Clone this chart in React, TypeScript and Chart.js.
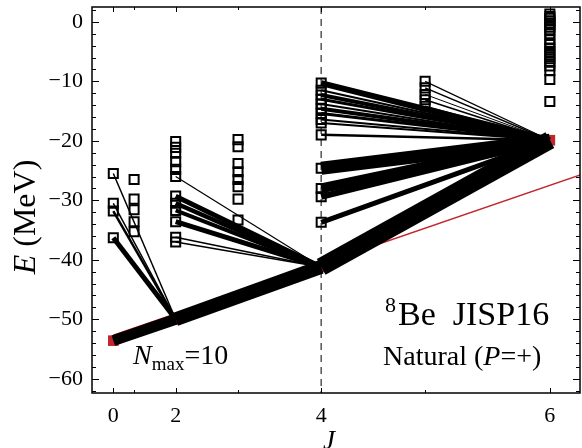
import React, { useEffect, useRef } from 'react';
import { Chart, registerables } from 'chart.js';

Chart.register(...registerables);

const SERIF = '"Liberation Serif", "Times New Roman", serif';
const RED = '#c0262c';

// Yrast (lowest) states
const yrastJ = [0, 2, 4, 6];
const yrastE = [-53.6, -50.0, -41.2, -19.9];
// B(E2)-like strengths along the yrast band (0->2, 2->4, 4->6)
const yrastBE2 = [44, 56, 72];

// Excited states (energies in MeV) for each J
const statesJ0 = [-25.5, -30.5, -31.8, -36.3];
const statesJ1 = [-26.5, -29.8, -31.6, -33.6, -35.3];
const statesJ2 = [-20.1, -21.1, -22.1, -23.5, -24.8, -26.0, -29.3, -30.5, -31.7, -33.6, -36.2, -37.0];
const statesJ3 = [-19.8, -21.0, -23.8, -25.2, -26.5, -27.7, -29.8, -33.3];
const statesJ4 = [-10.3, -11.5, -12.3, -13.0, -13.8, -14.6, -15.4, -16.4, -17.0, -19.0, -24.6, -28.0, -29.4, -33.7];
const statesJ5 = [-10.0, -11.1, -12.2, -13.1, -14.2];
const statesJ6 = [1.3, 0.9, 0.6, 0.2, -0.2, -0.5, -0.9, -1.3, -2.0, -3.0, -3.8, -4.4, -5.0, -5.6, -6.2, -6.8, -7.4, -8.2, -9.7, -13.4];

// Transition strengths from each excited state to the yrast state (same units as yrastBE2)
const be2J0 = [6, 6, 10, 20];                            // to yrast J=2
const be2J2 = [0, 0, 0, 0, 0, 5, 20, 18, 16, 20, 6, 6];  // to yrast J=4
const be2J4 = [24, 8, 16, 12, 8, 16, 12, 8, 8, 10, 52, 40, 24, 20]; // to yrast J=6
const be2J5 = [5, 6, 4, 7, 6];                           // to yrast J=6

// Rotational band fit line (red)
const bandFitJ = [0, 6.3];
const bandFitE = [-52.7, -25.1];

// Axis ticks
const xTickJ = [0, 2, 4, 6];
const yTickE = [-60, -50, -40, -30, -20, -10, 0];

const X = (j: number) => j * (j + 1);
const WIDTH_PER_UNIT = 0.25;

function buildDatasets() {
  const ds: any[] = [];
  const yr = (j: number) => yrastE[yrastJ.indexOf(j)];
  const addTransitions = (fromJ: number, energies: number[], be2: number[], toJ: number) => {
    energies.forEach((e, i) => {
      if (!be2[i]) return;
      ds.push({
        data: [{ x: X(fromJ), y: e }, { x: X(toJ), y: yr(toJ) }],
        showLine: true,
        borderColor: '#000',
        borderWidth: be2[i] * WIDTH_PER_UNIT,
        pointRadius: 0,
        order: 0,
      });
    });
  };
  // yrast band
  for (let i = 0; i < yrastJ.length - 1; i++) {
    ds.push({
      data: [{ x: X(yrastJ[i]), y: yrastE[i] }, { x: X(yrastJ[i + 1]), y: yrastE[i + 1] }],
      showLine: true,
      borderColor: '#000',
      borderWidth: yrastBE2[i] * WIDTH_PER_UNIT,
      pointRadius: 0,
      order: 0,
    });
  }
  addTransitions(0, statesJ0, be2J0, 2);
  addTransitions(2, statesJ2, be2J2, 4);
  addTransitions(4, statesJ4, be2J4, 6);
  addTransitions(5, statesJ5, be2J5, 6);

  const open: { x: number; y: number }[] = [];
  const groups: [number, number[]][] = [
    [0, statesJ0], [1, statesJ1], [2, statesJ2], [3, statesJ3], [4, statesJ4], [5, statesJ5], [6, statesJ6],
  ];
  groups.forEach(([j, es]) => es.forEach((e) => open.push({ x: X(j), y: e })));
  ds.push({
    data: open,
    pointStyle: 'rect',
    pointRadius: 6.4,
    borderWidth: 2,
    borderColor: '#000',
    backgroundColor: 'rgba(0,0,0,0)',
    order: 1,
  });
  ds.push({
    data: yrastJ.map((j, i) => ({ x: X(j), y: yrastE[i] })),
    pointStyle: 'rect',
    pointRadius: 7.5,
    borderWidth: 0,
    backgroundColor: RED,
    borderColor: RED,
    order: 2,
  });
  ds.push({
    data: bandFitJ.map((j, i) => ({ x: X(j), y: bandFitE[i] })),
    showLine: true,
    borderColor: RED,
    borderWidth: 1.5,
    pointRadius: 0,
    clip: 0,
    order: 3,
  });
  return ds;
}

const framePlugin = {
  id: 'frame',
  beforeDatasetsDraw(chart: any) {
    const { ctx, chartArea, scales } = chart;
    const px = scales.x.getPixelForValue(X(4));
    ctx.save();
    ctx.strokeStyle = '#555';
    ctx.lineWidth = 1.5;
    ctx.setLineDash([7, 5]);
    ctx.beginPath();
    ctx.moveTo(px, chartArea.top);
    ctx.lineTo(px, chartArea.bottom);
    ctx.stroke();
    ctx.restore();
  },
  afterDraw(chart: any) {
    const { ctx, chartArea, scales } = chart;
    const { left, right, top, bottom } = chartArea;
    const ys = scales.y;
    const xs = scales.x;
    ctx.save();
    ctx.strokeStyle = '#000';
    ctx.lineWidth = 1.5;
    ctx.strokeRect(left, top, right - left, bottom - top);
    ctx.lineWidth = 1;
    ctx.beginPath();
    for (let v = -62; v <= 2; v += 2) {
      const py = Math.round(ys.getPixelForValue(v)) + 0.5;
      if (py < top || py > bottom) continue;
      const len = v % 10 === 0 ? 7 : 4;
      ctx.moveTo(left, py); ctx.lineTo(left + len, py);
      ctx.moveTo(right, py); ctx.lineTo(right - len, py);
    }
    for (let j = 0; j <= 6; j++) {
      const px = Math.round(xs.getPixelForValue(X(j))) + 0.5;
      const len = j % 2 === 0 ? 5 : 3;
      ctx.moveTo(px, bottom); ctx.lineTo(px, bottom - len);
      ctx.moveTo(px, top); ctx.lineTo(px, top + len);
    }
    ctx.stroke();

    // texts
    ctx.fillStyle = '#000';
    ctx.textBaseline = 'alphabetic';
    ctx.textAlign = 'left';
    ctx.font = `22px ${SERIF}`;
    ctx.fillText('8', 385, 312);
    ctx.font = `34px ${SERIF}`;
    ctx.fillText('Be  JISP16', 398, 325);

    let x = 383;
    const parts: [string, string][] = [
      ['Natural (', `28px ${SERIF}`],
      ['P', `italic 28px ${SERIF}`],
      ['=+)', `28px ${SERIF}`],
    ];
    parts.forEach(([t, f]) => {
      ctx.font = f;
      ctx.fillText(t, x, 365);
      x += ctx.measureText(t).width;
    });

    x = 133;
    ctx.font = `italic 28px ${SERIF}`;
    ctx.fillText('N', x, 364);
    x += ctx.measureText('N').width;
    ctx.font = `19px ${SERIF}`;
    ctx.fillText('max', x, 370);
    x += ctx.measureText('max').width;
    ctx.font = `28px ${SERIF}`;
    ctx.fillText('=10', x, 364);

    // axis titles
    ctx.font = `italic 27px ${SERIF}`;
    ctx.textAlign = 'center';
    ctx.fillText('J', 329, 449);

    ctx.translate(35, 217);
    ctx.rotate(-Math.PI / 2);
    ctx.textAlign = 'left';
    ctx.font = `italic 32px ${SERIF}`;
    const w1 = ctx.measureText('E').width;
    ctx.font = `32px ${SERIF}`;
    const w2 = ctx.measureText(' (MeV)').width;
    const start = -(w1 + w2) / 2;
    ctx.font = `italic 32px ${SERIF}`;
    ctx.fillText('E', start, 0);
    ctx.font = `32px ${SERIF}`;
    ctx.fillText(' (MeV)', start + w1, 0);
    ctx.restore();
  },
};

const zeroPad = (s: any) => {
  s.paddingTop = 0;
  s.paddingBottom = 0;
  s.paddingLeft = 0;
  s.paddingRight = 0;
};

export default function App() {
  const ref = useRef<HTMLCanvasElement>(null);
  useEffect(() => {
    const chart = new Chart(ref.current as HTMLCanvasElement, {
      type: 'scatter',
      data: { datasets: buildDatasets() },
      options: {
        animation: false,
        responsive: false,
        devicePixelRatio: 1,
        layout: { autoPadding: false, padding: { top: 7, right: 2, left: 0, bottom: 0 } },
        plugins: { legend: { display: false }, tooltip: { enabled: false } },
        scales: {
          x: {
            type: 'linear',
            min: -2.05,
            max: 44.9,
            afterBuildTicks: (s: any) => { s.ticks = xTickJ.map((j) => ({ value: X(j) })); },
            afterFit: (s: any) => { s.height = 55; zeroPad(s); },
            ticks: {
              callback: (_v: any, i: number) => String(xTickJ[i]),
              font: { family: SERIF, size: 22 },
              color: '#000',
              padding: 10,
              maxRotation: 0,
              autoSkip: false,
            },
            grid: { display: false, drawTicks: false },
            border: { display: false },
          },
          y: {
            type: 'linear',
            min: -62.4,
            max: 2.5,
            afterBuildTicks: (s: any) => { s.ticks = yTickE.map((v) => ({ value: v })); },
            afterFit: (s: any) => { s.width = 92; zeroPad(s); },
            ticks: {
              callback: (v: any) => (v < 0 ? '\u2212' + Math.abs(v) : String(v)),
              font: { family: SERIF, size: 22 },
              color: '#000',
              padding: 9,
              autoSkip: false,
            },
            grid: { display: false, drawTicks: false },
            border: { display: false },
          },
        },
      } as any,
      plugins: [framePlugin],
    });
    return () => chart.destroy();
  }, []);
  return (
    <div style={{ position: 'fixed', left: 0, top: 0, width: 582, height: 448, background: '#fff' }}>
      <canvas ref={ref} width={582} height={448} style={{ display: 'block' }} />
    </div>
  );
}
